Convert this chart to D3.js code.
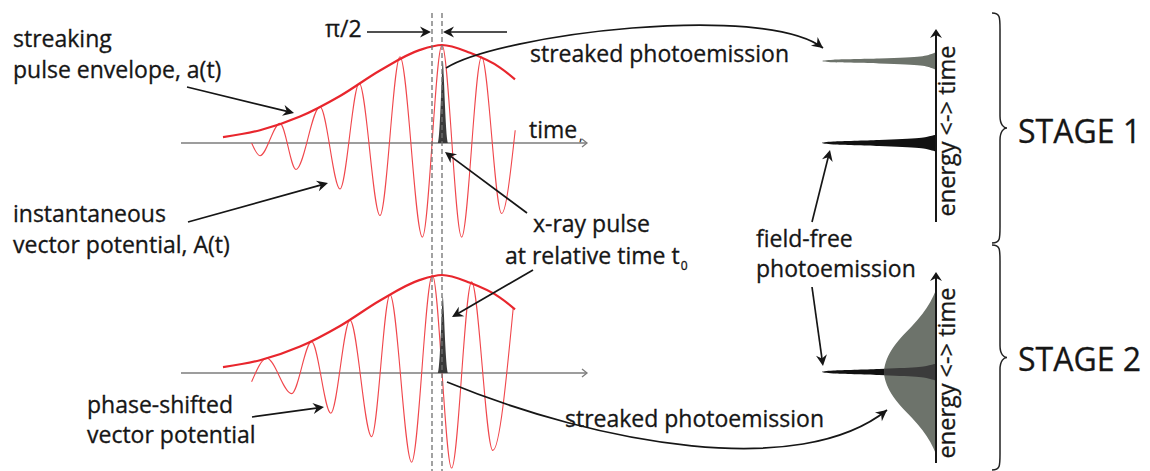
<!DOCTYPE html>
<html>
<head>
<meta charset="utf-8">
<script src="https://cdn.jsdelivr.net/npm/d3@7"></script>
<style>
  html, body { margin: 0; padding: 0; background: #fff; }
  svg { display: block; font-family: "Open Sans", sans-serif; }
  text { stroke: #161616; stroke-width: 0.3px; }
</style>
</head>
<body>
<svg id="fig" width="1150" height="471"></svg>
<script>
// ---- streaking field (time in optical cycles, amplitude relative to the envelope peak) ----
const envelopeT = [-5.475, -4.55, -3.55, -2.55, -1.55, -0.55, 0, 0.7, 1.45, 1.825];
const envelopeA = [0.06, 0.13, 0.27, 0.48, 0.74, 0.95, 1.0, 0.92, 0.77, 0.65];

// turning points of the instantaneous vector potential A(t)
const carrierT = [-4.76, -4.55, -4.05, -3.65, -3.05, -2.55, -2.07, -1.55, -1.05, -0.49, 0, 0.49, 0.99, 1.49, 1.83];
const carrierA = [0, -0.13, 0.20, -0.27, 0.37, -0.47, 0.61, -0.74, 0.88, -0.96, 1.0, -0.96, 0.88, -0.72, 0.13];

// turning points of the phase-shifted vector potential
const shiftedT = [-4.76, -4.38, -3.76, -3.26, -2.78, -2.3, -1.76, -1.3, -0.76, -0.24, 0.24, 0.74, 1.27, 1.78];
const shiftedA = [-0.09, 0.15, -0.21, 0.32, -0.41, 0.54, -0.65, 0.80, -0.91, 1.0, -0.97, 0.93, -0.79, 0.66];

const phaseShift = 0.25;          // a quarter cycle, labelled π/2
const phaseLabel = "π/2";

// x-ray pulse at relative time t0
const pulseCentre = 0.02;
const pulseDt    = [-0.125, -0.1, -0.075, -0.05, -0.025, 0, 0.025, 0.05, 0.075, 0.1, 0.125];
const pulseShape = [0, 0.08, 0.25, 0.5, 0.8, 1, 0.8, 0.5, 0.25, 0.08, 0];
const pulseHeight = [0.84, 0.78];  // stage 1, stage 2

// ---- photoelectron spectra (energy relative to the field-free line, intensity) ----
const streakedNarrowE = [-0.11, -0.085, -0.055, -0.03, -0.016, 0, 0.016, 0.03, 0.055, 0.085, 0.11];
const streakedNarrowI = [0, 0.04, 0.14, 0.5, 0.9, 1, 0.9, 0.5, 0.14, 0.04, 0];
const streakedNarrowShift = 1.0;

const fieldFreeE = [-0.104, -0.085, -0.061, -0.037, -0.018, 0, 0.018, 0.037, 0.061, 0.085, 0.104];
const fieldFreeI = [0, 0.05, 0.15, 0.5, 0.9, 1, 0.9, 0.5, 0.15, 0.05, 0];

const streakedWideE = [-1, -0.854, -0.707, -0.561, -0.415, -0.268, -0.122, 0, 0.122, 0.268, 0.415, 0.561, 0.707, 0.854, 1];
const streakedWideI = [0, 0.05, 0.12, 0.21, 0.31, 0.39, 0.44, 0.456, 0.44, 0.39, 0.31, 0.21, 0.12, 0.05, 0];

// ---- text ----
const stageLabels = ["STAGE 1", "STAGE 2"];
const energyAxisLabel = "energy <-> time";
const timeLabel = "time";
const streakedLabel = "streaked photoemission";

// ================= drawing =================
const svg = d3.select("#fig");
const ink = "#161616";
const red = "#e8262d";
const redThin = "#f0474c";
const axisGrey = "#7d7d7d";
const specGrey = "#6d736b";

const zip = (a, b, ka, kb) => a.map((v, i) => ({ [ka]: v, [kb]: b[i] }));

// time axis shared by both stages
const xT = d3.scaleLinear().domain([-6.525, 3.625]).range([181, 587]);
const panels = [
  { y: d3.scaleLinear().domain([-1, 1]).range([241, 45]),  carrier: zip(carrierT, carrierA, "t", "a"), pulse: pulseHeight[0] },
  { y: d3.scaleLinear().domain([-1, 1]).range([471, 275]), carrier: zip(shiftedT, shiftedA, "t", "a"), pulse: pulseHeight[1] }
];
const envelope = zip(envelopeT, envelopeA, "t", "a");
const pulse = zip(pulseDt, pulseShape, "dt", "s");

const defs = svg.append("defs");

panels.forEach((p, k) => {
  const g = svg.append("g");
  const y0 = p.y(0);
  // time axis with open arrow tip
  g.append("line").attr("x1", xT.range()[0]).attr("x2", xT.range()[1])
    .attr("y1", y0).attr("y2", y0).attr("stroke", axisGrey).attr("stroke-width", 1.4);
  g.append("path")
    .attr("d", d3.line()([[xT.range()[1] - 5, y0 - 4], [xT.range()[1], y0], [xT.range()[1] - 5, y0 + 4]]))
    .attr("fill", "none").attr("stroke", axisGrey).attr("stroke-width", 1.3);

  // vector potential
  g.append("path").datum(p.carrier)
    .attr("d", d3.line().x(d => xT(d.t)).y(d => p.y(d.a)).curve(d3.curveMonotoneX))
    .attr("fill", "none").attr("stroke", redThin).attr("stroke-width", 1.1);
  // envelope
  g.append("path").datum(envelope)
    .attr("d", d3.line().x(d => xT(d.t)).y(d => p.y(d.a)).curve(d3.curveMonotoneX))
    .attr("fill", "none").attr("stroke", red).attr("stroke-width", 2.2);
  p.g = g;
});

// dashed markers at the two carrier maxima
[0, -phaseShift].forEach(t => {
  svg.append("line").attr("x1", xT(t)).attr("x2", xT(t)).attr("y1", 13).attr("y2", 471)
    .attr("stroke", "#707070").attr("stroke-width", 1.3).attr("stroke-dasharray", "5,3");
});

// x-ray pulses
panels.forEach(p => {
  p.g.append("path").datum(pulse)
    .attr("d", d3.area().x(d => xT(pulseCentre + d.dt)).y0(p.y(0)).y1(d => p.y(p.pulse * d.s)).curve(d3.curveMonotoneX))
    .attr("fill", "#3a3a3a");
});

// ---- arrows ----
function arrowHead(tip, angle, L = 11, W = 5.5, N = 7.5) {
  const c = Math.cos(angle), s = Math.sin(angle);
  const pt = (u, v) => [tip[0] + u * c - v * s, tip[1] + u * s + v * c];
  svg.append("path").attr("d", d3.line()([pt(0, 0), pt(-L, -W), pt(-N, 0), pt(-L, W)]) + "Z")
    .attr("fill", ink);
}
function straightArrow(a, b) {
  const ang = Math.atan2(b[1] - a[1], b[0] - a[0]);
  const end = [b[0] - 6 * Math.cos(ang), b[1] - 6 * Math.sin(ang)];
  svg.append("line").attr("x1", a[0]).attr("y1", a[1]).attr("x2", end[0]).attr("y2", end[1])
    .attr("stroke", ink).attr("stroke-width", 1.7);
  arrowHead(b, ang);
}
function curvedArrow(p0, c1, c2, p3) {
  const path = d3.path();
  path.moveTo(...p0);
  path.bezierCurveTo(...c1, ...c2, ...p3);
  svg.append("path").attr("d", path.toString())
    .attr("fill", "none").attr("stroke", ink).attr("stroke-width", 1.7);
  const ang = Math.atan2(p3[1] - c2[1], p3[0] - c2[0]);
  arrowHead(p3, ang);
}

straightArrow([367, 32], [431, 32]);
straightArrow([507, 32], [443, 32]);
straightArrow([187, 87], [294, 113]);
straightArrow([188, 222], [328, 183]);
straightArrow([527, 213], [445, 152]);
straightArrow([533, 270], [452, 317]);
straightArrow([252, 417], [324, 407]);
straightArrow([812, 222], [830, 150]);
straightArrow([812, 287], [823, 366]);
curvedArrow([446, 68], [500, 34], [763, 2], [823, 48]);
curvedArrow([447, 382], [600, 445], [800, 480], [887, 410]);

// ---- spectra ----
const xI = d3.scaleLinear().domain([0, 1]).range([936, 822]);
const stages = [
  { centre: 143, top: 29, bottom: 222, midLabel: 131 },
  { centre: 372, top: 272, bottom: 463, midLabel: 373 }
];
stages.forEach(st => { st.yE = d3.scaleLinear().domain([-1, 1]).range([st.centre + 82, st.centre - 82]); });

const spectrum = (yE, shift) => d3.area()
  .y(d => yE(d.e + shift)).x0(xI(0)).x1(d => xI(d.i)).curve(d3.curveMonotoneY);

const narrow = zip(streakedNarrowE, streakedNarrowI, "e", "i");
const fieldFree = zip(fieldFreeE, fieldFreeI, "e", "i");
const wide = zip(streakedWideE, streakedWideI, "e", "i");

// stage 1: streaked line shifted, field-free line
svg.append("path").datum(narrow).attr("d", spectrum(stages[0].yE, streakedNarrowShift)).attr("fill", specGrey);
svg.append("path").datum(fieldFree).attr("d", spectrum(stages[0].yE, 0)).attr("fill", "#111");

// stage 2: field-free line seen through the broadened streaked spectrum
svg.append("path").datum(fieldFree).attr("d", spectrum(stages[1].yE, 0)).attr("fill", "#111");
const wideD = spectrum(stages[1].yE, 0)(wide);
svg.append("path").attr("d", wideD).attr("fill", specGrey);
defs.append("clipPath").attr("id", "wideClip").append("path").attr("d", wideD);
svg.append("path").datum(fieldFree).attr("d", spectrum(stages[1].yE, 0)).attr("fill", "#3b3b3b")
  .attr("clip-path", "url(#wideClip)");

// energy axes
stages.forEach(st => {
  svg.append("line").attr("x1", 936).attr("x2", 936).attr("y1", st.bottom).attr("y2", st.top + 5)
    .attr("stroke", ink).attr("stroke-width", 2);
  arrowHead([936, st.top], -Math.PI / 2, 9, 6, 6);
  svg.append("text").attr("transform", `translate(955,${st.midLabel}) rotate(-90)`)
    .attr("text-anchor", "middle").attr("font-size", 23.5).attr("fill", ink).text(energyAxisLabel);
});

// braces
function brace(x, y0, y1) {
  const ym = (y0 + y1) / 2, m = x + 8, c = x + 15;
  const p = d3.path();
  p.moveTo(x, y0);
  p.bezierCurveTo(m, y0, m, y0 + 4, m, y0 + 16);
  p.lineTo(m, ym - 12);
  p.bezierCurveTo(m, ym - 3, c - 3, ym, c, ym);
  p.bezierCurveTo(c - 3, ym, m, ym + 3, m, ym + 12);
  p.lineTo(m, y1 - 16);
  p.bezierCurveTo(m, y1 - 4, m, y1, x, y1);
  svg.append("path").attr("d", p.toString()).attr("fill", "none").attr("stroke", "#222").attr("stroke-width", 1.5);
}
brace(992, 13, 243);
brace(992, 245, 470);

// ---- text ----
function label(x, y, str, size = 23) {
  return svg.append("text").attr("x", x).attr("y", y).attr("font-size", size).attr("fill", ink).text(str);
}
label(13, 47, "streaking");
label(13, 78, "pulse envelope, a(t)");
label(13, 222, "instantaneous");
label(13, 253, "vector potential, A(t)");
label(87, 413, "phase-shifted");
label(87, 443, "vector potential");
label(325, 37, phaseLabel);
const tl = label(529, 138, timeLabel);
tl.append("tspan").attr("font-size", 12).attr("dx", 2).attr("dy", 2).text(",");
label(530, 62, streakedLabel);
label(565, 427, streakedLabel);
label(533, 232, "x-ray pulse");
const at = label(505, 264, "at relative time t");
at.append("tspan").attr("font-size", 12).attr("dx", 1).attr("dy", 6).text("0");
label(756, 247, "field-free");
label(756, 277, "photoemission");
label(1018, 143, stageLabels[0], 32);
label(1018, 371, stageLabels[1], 32);
</script>
</body>
</html>
